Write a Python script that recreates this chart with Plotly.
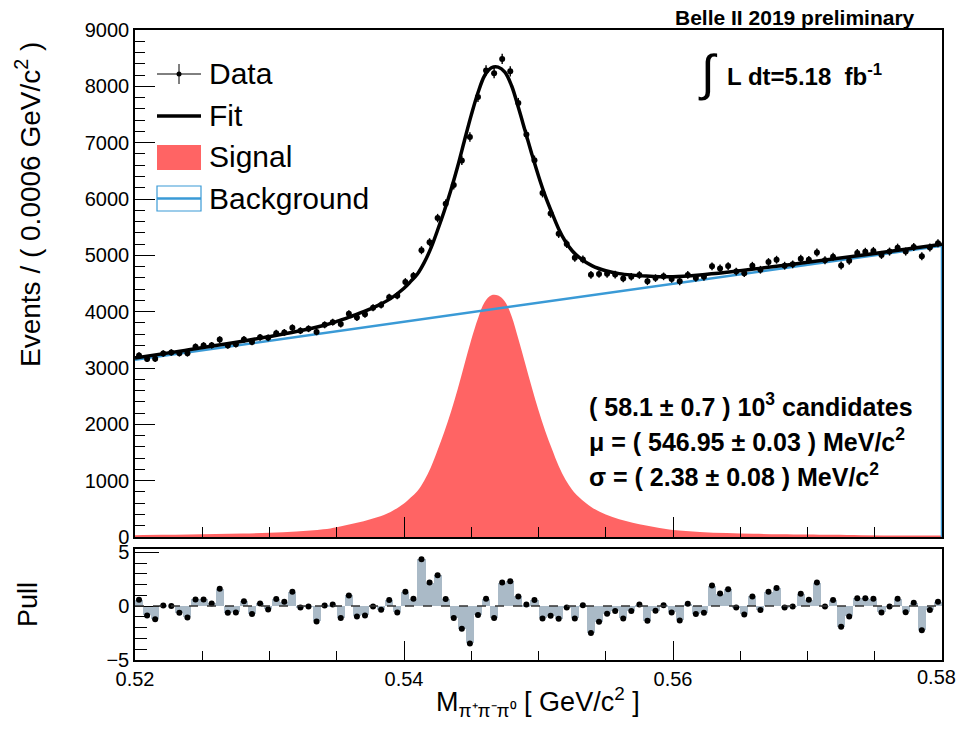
import numpy as np
import plotly.graph_objects as go

# ---------------- data ----------------
x_lo, x_hi, n_bins = 0.52, 0.58, 100
bin_width = (x_hi - x_lo) / n_bins

data_counts = [
    3223, 3161, 3163, 3257, 3276, 3261, 3260, 3378, 3401, 3403,
    3504, 3398, 3422, 3507, 3461, 3544, 3535, 3619, 3631, 3714,
    3662, 3697, 3641, 3766, 3814, 3782, 3964, 3895, 3955, 4069,
    4120, 4254, 4284, 4528, 4636, 5091, 5232, 5661, 5917, 6247,
    6685, 7101, 7812, 8282, 8233, 8487, 8266, 7706, 7144, 6689,
    6106, 5743, 5382, 5203, 4956, 4928, 4654, 4669, 4672, 4658,
    4589, 4620, 4651, 4538, 4596, 4627, 4580, 4538, 4653, 4597,
    4618, 4805, 4768, 4810, 4712, 4683, 4815, 4744, 4881, 4922,
    4816, 4840, 4940, 4920, 5050, 4914, 4974, 4820, 4904, 5043,
    5063, 5078, 5007, 5066, 5136, 5067, 5148, 4985, 5139, 5214,
]

pulls = [
    0.60, -0.86, -1.23, 0.06, 0.00, -0.62, -1.05, 0.62, 0.62, 0.25,
    1.60, -0.62, -0.59, 0.46, -0.74, 0.25, -0.31, 0.65, 0.40, 1.33,
    -0.12, -0.03, -1.42, 0.06, 0.15, -1.11, 0.99, -0.96, -0.86, -0.03,
    -0.34, 0.56, -0.59, 1.33, 0.68, 4.35, 2.19, 2.87, 0.65, -1.11,
    -2.10, -3.46, -0.83, 0.68, -1.11, 2.19, 2.31, 0.90, 0.15, 0.56,
    -1.14, -0.90, -1.17, -0.12, -1.14, 0.09, -2.50, -1.45, -0.71, -0.46,
    -1.14, -0.46, 0.15, -1.36, -0.43, 0.09, -0.59, -1.33, 0.22, -0.74,
    -0.62, 1.91, 1.17, 1.57, -0.12, -0.77, 0.90, -0.37, 1.33, 1.67,
    -0.12, -0.03, 1.14, 0.59, 2.19, -0.03, 0.56, -1.91, -0.96, 0.74,
    0.74, 0.68, -0.59, -0.03, 0.68, -0.56, 0.31, -2.25, -0.37, 0.40,
]

# signal component
signal_x = [0.520, 0.522, 0.524, 0.526, 0.528, 0.530, 0.532, 0.534, 0.535, 0.536,
            0.537, 0.538, 0.539, 0.540, 0.5405, 0.541, 0.5415, 0.542, 0.5425, 0.543,
            0.5435, 0.544, 0.5445, 0.545, 0.5455, 0.546, 0.5465, 0.547, 0.5475, 0.548,
            0.5485, 0.549, 0.5495, 0.550, 0.5505, 0.551, 0.5515, 0.552, 0.5525, 0.553,
            0.554, 0.555, 0.556, 0.557, 0.558, 0.559, 0.560, 0.562, 0.564, 0.566,
            0.568, 0.570, 0.574, 0.580]
signal_y = [33, 38, 43, 52, 61, 75, 97, 137, 175, 225,
            280, 350, 445, 595, 700, 815, 1000, 1240, 1545, 1870,
            2230, 2630, 3070, 3500, 3880, 4170, 4290, 4285, 4180, 3920,
            3520, 3090, 2660, 2250, 1880, 1560, 1260, 1020, 840, 710,
            520, 400, 315, 255, 205, 160, 125, 90, 70, 58,
            50, 43, 33, 25]

# linear background end points
bkg_x = [0.52, 0.58]
bkg_y = [3145, 5170]

y_ticks_main = [0, 1000, 2000, 3000, 4000, 5000, 6000, 7000, 8000, 9000]
x_tick_vals = [0.52, 0.54, 0.56, 0.58]
x_tick_labels = ["0.52", "0.54", "0.56", "0.58"]

# ---------------- derived ----------------
bin_centers = x_lo + bin_width * (np.arange(n_bins) + 0.5)
data_err = np.sqrt(np.array(data_counts, dtype=float))
sig_x = np.array(signal_x)
bkg_at_sig = np.interp(sig_x, bkg_x, bkg_y)
fit_y = np.array(signal_y) + bkg_at_sig

# ---------------- layout helpers ----------------
# page body keeps its 8px margin: figure (950x715) is drawn at (8, 8) in the window
OFF = 8
W, H = 966 - 2 * OFF, 731 - 2 * OFF
PL, PR, PT, PB = 135, 942, 30, 660          # plot area in window pixels
ML, MR, MT, MB = PL - OFF, (W + OFF) - PR, PT - OFF, (H + OFF) - PB

def px(x):
    return (x - PL) / (PR - PL)
def py(y):
    return (PB - y) / (PB - PT)

FONT = "Liberation Sans, Arial, Helvetica, sans-serif"
RED = "#ff6464"
BLUE = "#3a9ad6"
PULLC = "rgb(170,186,199)"

fig = go.Figure()

# main panel
fig.add_trace(go.Scatter(x=signal_x, y=signal_y, mode="lines", line=dict(color=RED, width=0, shape="spline"),
                         fill="tozeroy", fillcolor=RED, xaxis="x", yaxis="y", hoverinfo="skip", showlegend=False))
fig.add_trace(go.Scatter(x=[bkg_x[0], bkg_x[1], bkg_x[1]], y=[bkg_y[0], bkg_y[1], 0], mode="lines",
                         line=dict(color=BLUE, width=2.5), xaxis="x", yaxis="y", showlegend=False))
fig.add_trace(go.Scatter(x=signal_x, y=fit_y, mode="lines", line=dict(color="black", width=3.5, shape="spline"),
                         xaxis="x", yaxis="y", showlegend=False))
fig.add_trace(go.Scatter(x=bin_centers, y=data_counts, mode="markers",
                         marker=dict(color="black", size=6),
                         error_y=dict(type="data", array=data_err, color="black", thickness=1.4, width=0),
                         xaxis="x", yaxis="y", showlegend=False))

# pull panel
fig.add_trace(go.Bar(x=bin_centers, y=pulls, width=bin_width, marker=dict(color=PULLC, line=dict(width=0)),
                     xaxis="x2", yaxis="y2", showlegend=False))
fig.add_trace(go.Scatter(x=bin_centers, y=pulls, mode="markers", marker=dict(color="black", size=6),
                         xaxis="x2", yaxis="y2", showlegend=False))

axis_common = dict(showline=True, mirror=True, linecolor="black", linewidth=1.5, showgrid=False,
                   zeroline=False, ticks="inside", tickcolor="black", tickwidth=1.2,
                   tickfont=dict(family=FONT, size=20, color="black"))
minor_common = dict(ticks="inside", tickcolor="black", tickwidth=1.2)

# last x label sits at the page edge: drawn as an annotation so it stays inside the figure
x_ticktext = x_tick_labels[:-1] + [""]

fig.update_layout(
    width=W, height=H, autosize=False,
    margin=dict(l=ML, r=MR, t=MT, b=MB),
    paper_bgcolor="white", plot_bgcolor="white",
    showlegend=False, bargap=0,
    font=dict(family=FONT, color="black"),
    xaxis=dict(domain=[0, 1], anchor="y", range=[x_lo, x_hi], showticklabels=False,
               tick0=0.52, dtick=0.02, ticklen=20,
               minor=dict(dtick=0.005, tick0=0.52, ticklen=10, **minor_common),
               **axis_common),
    yaxis=dict(domain=[py(537), 1], anchor="x", range=[0, 9000], tickvals=y_ticks_main, ticklen=20,
               minor=dict(dtick=200, ticklen=10, **minor_common),
               **axis_common),
    xaxis2=dict(domain=[0, 1], anchor="y2", range=[x_lo, x_hi], matches="x",
                tickvals=x_tick_vals, ticktext=x_ticktext, ticklen=19,
                minor=dict(dtick=0.005, tick0=0.52, ticklen=9, **minor_common),
                **axis_common),
    yaxis2=dict(domain=[0, py(549)], anchor="x2", range=[-5.0, 5.3], tickvals=[-5, 0, 5],
                ticktext=["\u22125", "0", "5"], ticklen=24,
                minor=dict(dtick=1, ticklen=12, **minor_common),
                **axis_common),
)

shapes = []
# dashed zero line in pull panel
shapes.append(dict(type="line", xref="x2", yref="y2", x0=x_lo, x1=x_hi, y0=0, y1=0,
                   line=dict(color="#333333", width=1.5, dash="dash"), layer="above"))

# manual legend
lx0, lx1, lxc = px(157), px(201), px(179)
shapes.append(dict(type="line", xref="paper", yref="paper", x0=lx0, x1=lx1, y0=py(74), y1=py(74),
                   line=dict(color="black", width=1)))
shapes.append(dict(type="line", xref="paper", yref="paper", x0=lxc, x1=lxc, y0=py(64), y1=py(84),
                   line=dict(color="black", width=1)))
shapes.append(dict(type="circle", xref="paper", yref="paper", x0=px(176.5), x1=px(181.5), y0=py(71.5), y1=py(76.5),
                   fillcolor="black", line=dict(color="black", width=0)))
shapes.append(dict(type="line", xref="paper", yref="paper", x0=lx0, x1=lx1, y0=py(116), y1=py(116),
                   line=dict(color="black", width=3.5)))
shapes.append(dict(type="rect", xref="paper", yref="paper", x0=lx0, x1=lx1, y0=py(170), y1=py(145),
                   fillcolor=RED, line=dict(width=0)))
shapes.append(dict(type="rect", xref="paper", yref="paper", x0=lx0, x1=lx1, y0=py(211), y1=py(186),
                   fillcolor="rgba(0,0,0,0)", line=dict(color=BLUE, width=1.2)))
shapes.append(dict(type="line", xref="paper", yref="paper", x0=lx0, x1=lx1, y0=py(198.5), y1=py(198.5),
                   line=dict(color=BLUE, width=2.5)))
fig.update_layout(shapes=shapes)

ann = []
def add_text(text, x, y, size, xanchor="left", bold=False, angle=0, yanchor="middle"):
    ann.append(dict(text=("<b>%s</b>" % text) if bold else text, x=px(x), y=py(y), xref="paper", yref="paper",
                    xanchor=xanchor, yanchor=yanchor, showarrow=False, textangle=angle, borderpad=0,
                    font=dict(family=FONT, size=size, color="black")))

for label, yy in [("Data", 74), ("Fit", 116), ("Signal", 157), ("Background", 198)]:
    add_text(label, 208, yy, 30)

add_text(x_tick_labels[-1], 957, 677, 20, xanchor="right")

add_text("Belle II 2019 preliminary", 916, 17, 21, xanchor="right", bold=True)
add_text("\u222B", 708, 73, 50, xanchor="center")
add_text("L dt=5.18  fb<sup>-1</sup>", 726, 75, 24, bold=True)

add_text("( 58.1 \u00B1 0.7 ) 10<sup>3</sup> candidates", 588, 405, 25, bold=True)
add_text("\u03BC = ( 546.95 \u00B1 0.03 ) MeV/c<sup>2</sup>", 588, 440, 25, bold=True)
add_text("\u03C3 = ( 2.38 \u00B1 0.08 ) MeV/c<sup>2</sup>", 588, 475, 25, bold=True)

add_text("Events / ( 0.0006 GeV/c<sup>2</sup> )", 28, 205, 28, xanchor="center", angle=-90)
add_text("Pull", 28, 605, 27, xanchor="center", angle=-90)
add_text("M<sub>\u03C0\u207A\u03C0\u207B\u03C0\u2070</sub> [ GeV/c<sup>2</sup> ]", 538, 702, 27, xanchor="center")

fig.update_layout(annotations=ann)
fig.write_html("out.html", config={"displayModeBar": False})
